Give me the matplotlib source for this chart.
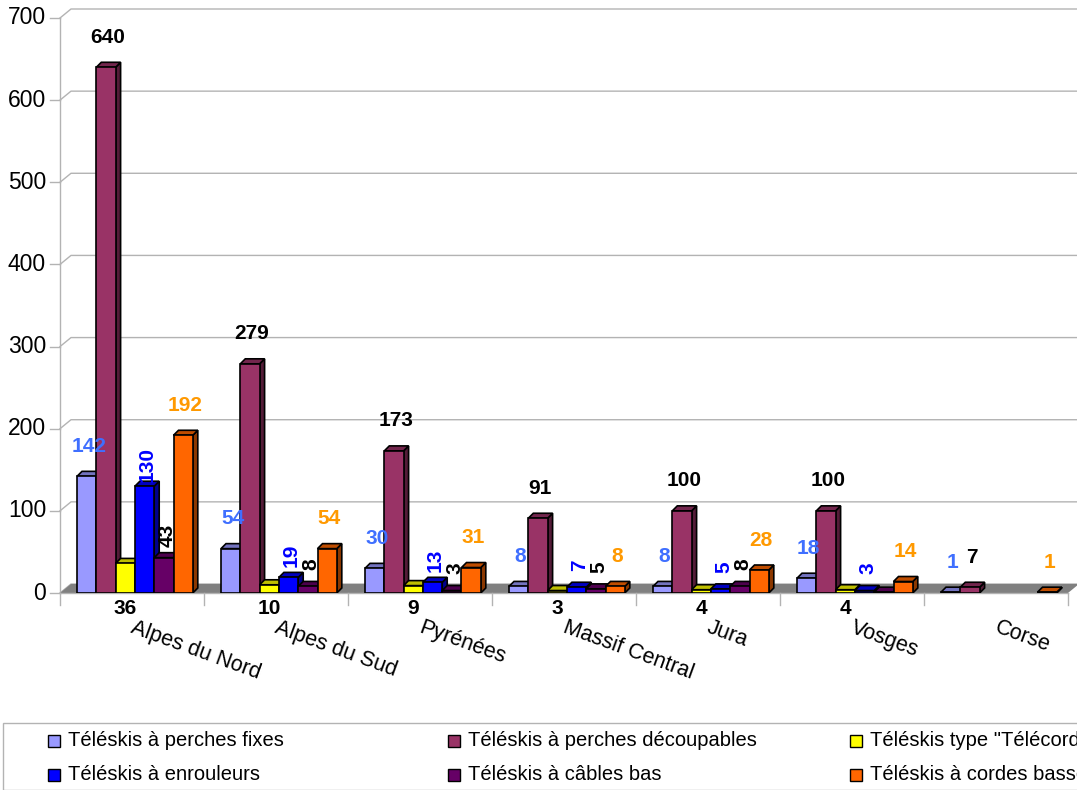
import matplotlib.pyplot as plt
import numpy as np
from matplotlib.patches import Polygon, Rectangle
from matplotlib import colors as mcolors

plt.rcParams['font.family'] = ['Liberation Sans', 'DejaVu Sans']

# Données par massif
regions = ["Alpes du Nord", "Alpes du Sud", "Pyrénées", "Massif Central",
           "Jura", "Vosges", "Corse"]
series_names = ["Téléskis à perches fixes", "Téléskis à perches découpables",
                'Téléskis type "Télécorde"', "Téléskis à enrouleurs",
                "Téléskis à câbles bas", "Téléskis à cordes basses"]
perches_fixes = [142, 54, 30, 8, 8, 18, 1]
perches_decoupables = [640, 279, 173, 91, 100, 100, 7]
telecorde = [36, 10, 9, 3, 4, 4, 0]
enrouleurs = [130, 19, 13, 7, 5, 3, 0]
cables_bas = [43, 8, 3, 5, 8, 1, 0]
cordes_basses = [192, 54, 31, 8, 28, 14, 1]
y_ticks = [0, 100, 200, 300, 400, 500, 600, 700]

series = [perches_fixes, perches_decoupables, telecorde, enrouleurs,
          cables_bas, cordes_basses]
bar_colors = ["#9999ff", "#993366", "#ffff00", "#0000ff", "#660066", "#ff6600"]
label_colors = ["#3f6fff", "black", "black", "#0000ff", "black", "#ff9900"]
# étiquettes affichées (la petite barre câbles bas des Vosges n'en a pas)
shown = [[v > 0 for v in s] for s in series]
shown[4][5] = False

W, H = 1077, 790
fig = plt.figure(figsize=(W / 100, H / 100), dpi=100)
x0_px, y0_px, ytop_px = 60, 593, 18
ax = fig.add_axes([x0_px / W, (H - y0_px) / H, (W - x0_px) / W,
                   (y0_px - ytop_px) / H])
group_px = 144.0
xmax = (W - x0_px) / group_px
ax.set_xlim(0, xmax)
ax.set_ylim(0, 700)
ax.axis('off')

sx = group_px
sy = (y0_px - ytop_px) / 700.0


def dpx(dx, dy):
    return dx / sx, dy / sy


grid_c = "#b3b3b3"
wdx, wdy = dpx(11, 9)
n_groups = len(regions)

# murs : lignes de grille en perspective
for t in y_ticks:
    ax.plot([0, wdx, xmax + 1], [t, t + wdy, t + wdy], color=grid_c,
            lw=1, clip_on=False, zorder=0)
    ax.plot([-10 / sx, 0], [t, t], color=grid_c, lw=1, clip_on=False)
    ax.annotate(str(t), xy=(0, t), xytext=(-14, 0), textcoords='offset pixels',
                ha='right', va='center', fontsize=16.5, annotation_clip=False)
ax.plot([0, 0], [0, 700], color=grid_c, lw=1, clip_on=False, zorder=0)

# sol gris
floor = Polygon([(0, 0), (n_groups, 0), (n_groups + wdx, wdy), (wdx, wdy)],
                closed=True, facecolor="#808080", edgecolor="none",
                zorder=1, clip_on=False)
ax.add_patch(floor)
ax.plot([0, n_groups], [0, 0], color=grid_c, lw=1, clip_on=False, zorder=1.5)
for g in range(n_groups + 1):
    ax.plot([g, g], [0, -12 / sy], color=grid_c, lw=1, clip_on=False)

# barres 3D
bw = 19.3 / group_px
start = 17 / group_px
bdx, bdy = dpx(5, 5)
lab_fs = 15
for i, (vals, col) in enumerate(zip(series, bar_colors)):
    rgb = np.array(mcolors.to_rgb(col))
    side_c = rgb * 0.55
    top_c = rgb * 0.75
    z = 3 + i
    xs = np.arange(n_groups) + start + i * bw
    for g, (xl, v) in enumerate(zip(xs, vals)):
        if v <= 0:
            continue
        xr = xl + bw
        ax.add_patch(Polygon([(xr, 0), (xr + bdx, bdy), (xr + bdx, v + bdy), (xr, v)],
                             closed=True, facecolor=side_c, edgecolor='black',
                             lw=1.2, zorder=z))
        ax.add_patch(Polygon([(xl, v), (xr, v), (xr + bdx, v + bdy), (xl + bdx, v + bdy)],
                             closed=True, facecolor=top_c, edgecolor='black',
                             lw=1.2, zorder=z))
        ax.add_patch(Rectangle((xl, 0), bw, v, facecolor=col, edgecolor='black',
                               lw=1.2, zorder=z))
        if not shown[i][g]:
            continue
        xc = xl + bw / 2
        if i == 2:
            ax.annotate(str(v), xy=(xc, 0), xytext=(0, -16), textcoords='offset pixels',
                        ha='center', va='center', fontsize=lab_fs, fontweight='bold',
                        color=label_colors[i], annotation_clip=False, zorder=20)
        elif i in (3, 4):
            ax.annotate(str(v), xy=(xc, v), xytext=(3, 22), textcoords='offset pixels',
                        ha='center', va='center', rotation=90, fontsize=lab_fs,
                        fontweight='bold', color=label_colors[i],
                        annotation_clip=False, zorder=20)
        else:
            ax.annotate(str(v), xy=(xc, v), xytext=(2, 30), textcoords='offset pixels',
                        ha='center', va='center', fontsize=lab_fs, fontweight='bold',
                        color=label_colors[i], annotation_clip=False, zorder=20)

# noms des massifs
for g, name in enumerate(regions):
    ax.annotate(name, xy=(g + 0.5, 0), xytext=(3, -24), textcoords='offset pixels',
                ha='left', va='top', rotation=-20, rotation_mode='anchor',
                fontsize=15.5, annotation_clip=False)

# légende
fig.patches.append(Rectangle((3 / W, 0), 1.2, (H - 723) / H, transform=fig.transFigure,
                             facecolor='white', edgecolor=grid_c, lw=1))
cols_x = [48, 448, 850]
rows_y = [741, 775]
for k, (name, col) in enumerate(zip(series_names, bar_colors)):
    cx = cols_x[k % 3]
    cy = rows_y[k // 3]
    fig.patches.append(Rectangle((cx / W, (H - cy - 6) / H), 12 / W, 12 / H,
                                 transform=fig.transFigure, facecolor=col,
                                 edgecolor='black', lw=1))
    fig.text((cx + 20) / W, (H - cy) / H, name, ha='left', va='center', fontsize=14.5)

fig.savefig("out.png", dpi=100)
